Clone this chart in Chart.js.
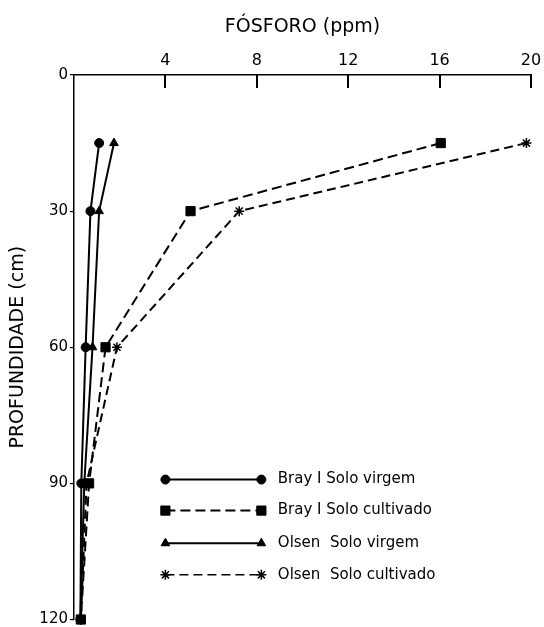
<!DOCTYPE html>
<html>
<head>
<meta charset="utf-8">
<script src="https://cdn.jsdelivr.net/npm/chart.js@4.4.0/dist/chart.umd.min.js"></script>
<style>
  body { margin: 0; background: #fff; }
  #wrap { width: 544px; height: 627px; }
</style>
</head>
<body>
<div id="wrap"><canvas id="myChart"></canvas></div>
<script>
// profundidade (cm)
let depths = [15, 30, 60, 90, 120];
// fosforo (ppm)
let brayVirgem = [1.1, 0.72, 0.51, 0.32, 0.28];
let brayCultivado = [16.05, 5.1, 1.38, 0.66, 0.3];
let olsenVirgem = [1.75, 1.1, 0.81, 0.45, 0.28];
let olsenCultivado = [19.8, 7.23, 1.88, 0.55, 0.3];

let xTicks = [0, 4, 8, 12, 16, 20];
let yTicks = [0, 30, 60, 90, 120];
let labels = ['Bray I Solo virgem', 'Bray I Solo cultivado', 'Olsen  Solo virgem', 'Olsen  Solo cultivado'];

const FONT = '"DejaVu Sans", sans-serif';

function pts(xs) {
    return xs.map((v, i) => ({ x: v, y: depths[i] }));
}

// legend inside the chart area (line with a marker at each end) + inward x ticks
const lineLegend = {
    id: 'lineLegend',
    afterDraw(chart) {
        const ctx = chart.ctx;
        const ca = chart.chartArea;
        const xs = chart.scales.x;

        ctx.save();
        ctx.fillStyle = '#000';
        xTicks.slice(1).forEach(t => {
            const px = xs.getPixelForValue(t);
            ctx.fillRect(Math.round(px) - 1, ca.top, 2, 13);
        });
        ctx.restore();

        const w = ca.right - ca.left, h = ca.bottom - ca.top;
        const x1 = ca.left + 0.2 * w, x2 = ca.left + 0.41 * w, xt = ca.left + 0.446 * w;
        const rows = [0.743, 0.8, 0.86, 0.918];
        ctx.save();
        chart.data.datasets.forEach((ds, i) => {
            const y = ca.top + rows[i] * h;
            ctx.strokeStyle = '#000';
            ctx.fillStyle = '#000';
            ctx.lineWidth = ds.legendWidth;
            ctx.setLineDash(ds.borderDash || []);
            ctx.beginPath();
            ctx.moveTo(x1, y);
            ctx.lineTo(x2, y);
            ctx.stroke();
            ctx.setLineDash([]);
            ctx.lineWidth = ds.pointBorderWidth;
            const opt = { pointStyle: ds.pointStyle, radius: ds.pointRadius, borderWidth: ds.pointBorderWidth, rotation: 0 };
            Chart.helpers.drawPoint(ctx, opt, x1, y);
            Chart.helpers.drawPoint(ctx, opt, x2, y);
            ctx.font = '15px ' + FONT;
            ctx.textBaseline = 'middle';
            ctx.textAlign = 'left';
            ctx.fillText(labels[i], xt, y);
        });
        ctx.restore();
    }
};

let ctx = document.getElementById('myChart').getContext('2d');
let myChart = new Chart(ctx, {
    type: 'scatter',
    data: {
        datasets: [
            {
                label: labels[0],
                data: pts(brayVirgem),
                showLine: true,
                borderColor: '#000',
                backgroundColor: '#000',
                borderWidth: 2,
                legendWidth: 2,
                pointStyle: 'circle',
                pointRadius: 4.5,
                pointBorderWidth: 1
            },
            {
                label: labels[1],
                data: pts(brayCultivado),
                showLine: true,
                borderColor: '#000',
                backgroundColor: '#000',
                borderWidth: 2,
                legendWidth: 2,
                borderDash: [10, 5],
                pointStyle: 'rect',
                pointRadius: 6.5,
                pointBorderWidth: 1
            },
            {
                label: labels[2],
                data: pts(olsenVirgem),
                showLine: true,
                borderColor: '#000',
                backgroundColor: '#000',
                borderWidth: 2,
                legendWidth: 2,
                pointStyle: 'triangle',
                pointRadius: 5,
                pointBorderWidth: 1
            },
            {
                label: labels[3],
                data: pts(olsenCultivado),
                showLine: true,
                borderColor: '#000',
                backgroundColor: '#000',
                borderWidth: 2,
                legendWidth: 1.5,
                borderDash: [9, 5],
                pointStyle: 'star',
                pointRadius: 5,
                pointBorderWidth: 1.5
            }
        ]
    },
    options: {
        responsive: true,
        maintainAspectRatio: false,
        animation: false,
        clip: false,
        layout: { padding: { left: 0, right: 13, top: 0, bottom: 5 } },
        plugins: {
            legend: { display: false },
            tooltip: { enabled: false }
        },
        scales: {
            x: {
                type: 'linear',
                position: 'top',
                min: 0,
                max: 20,
                afterFit: s => { s.height = 75; s.paddingLeft = 0; s.paddingRight = 0; },
                afterBuildTicks: s => { s.ticks = xTicks.map(v => ({ value: v })); },
                ticks: {
                    color: '#000',
                    padding: 5,
                    font: { family: FONT, size: 16 },
                    callback: v => v === 0 ? '' : v
                },
                grid: { drawOnChartArea: false, drawTicks: false },
                border: { display: true, color: '#000', width: 1.5 },
                title: {
                    display: true,
                    text: 'FÓSFORO (ppm)',
                    color: '#000',
                    font: { family: FONT, size: 19 },
                    padding: { top: 16, bottom: 0 }
                }
            },
            y: {
                type: 'linear',
                reverse: true,
                min: 0,
                max: 120,
                afterFit: s => { s.width = 74; s.paddingTop = 0; s.paddingBottom = 0; },
                afterBuildTicks: s => { s.ticks = yTicks.map(v => ({ value: v })); },
                ticks: {
                    color: '#000',
                    padding: 2,
                    font: { family: FONT, size: 15 }
                },
                grid: { drawOnChartArea: false, drawTicks: true, tickLength: 4, color: '#000', lineWidth: 1.2 },
                border: { display: true, color: '#000', width: 1.5 },
                title: {
                    display: true,
                    text: 'PROFUNDIDADE (cm)',
                    color: '#000',
                    font: { family: FONT, size: 19 },
                    padding: { top: 7, bottom: 0 }
                }
            }
        }
    },
    plugins: [lineLegend]
});
</script>
</body>
</html>
